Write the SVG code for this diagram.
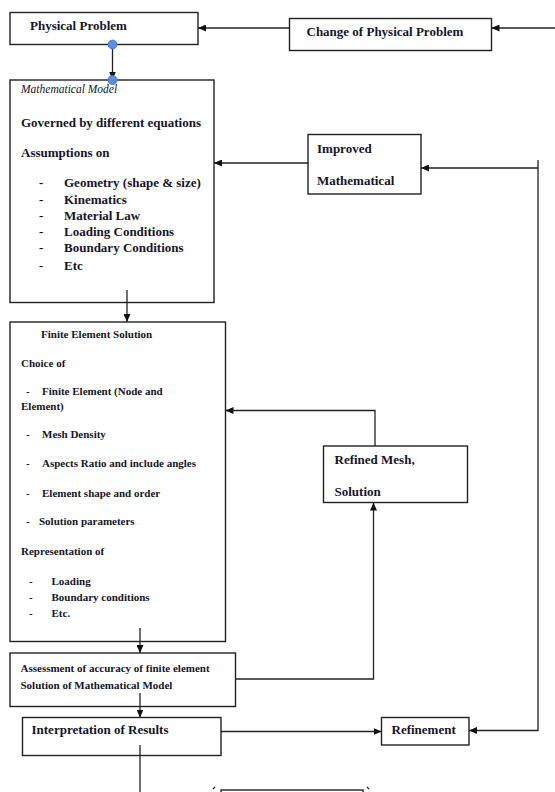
<svg xmlns="http://www.w3.org/2000/svg" width="555" height="792" viewBox="0 0 555 792">
<style>
.box{fill:#fff;stroke:#222;stroke-width:1.4}
.ln{fill:none;stroke:#222;stroke-width:1.3}
.t13{font-family:"Liberation Serif","Times New Roman",serif;font-size:13px;font-weight:bold;fill:#15152a}
.t11{font-family:"Liberation Serif","Times New Roman",serif;font-size:11px;font-weight:bold;fill:#15152a}
.it{font-family:"Liberation Serif","Times New Roman",serif;font-size:11.5px;font-style:italic;fill:#15152a}
.dot{fill:#5b8fdc;stroke:#3f73c4;stroke-width:0.8}
</style>
<defs>
<marker id="ah" viewBox="0 0 8 7" refX="8" refY="3.5" markerWidth="8" markerHeight="7" markerUnits="userSpaceOnUse" orient="auto">
<path d="M0,0 L8,3.5 L0,7 z" fill="#111"/>
</marker>
</defs>
<rect width="555" height="792" fill="#fff"/>

<g id="physical-problem">
<rect class="box" x="10" y="12.5" width="188" height="32"/>
<text class="t13" x="30" y="29.5">Physical Problem</text>
</g>
<g id="change-physical-problem">
<rect class="box" x="289.5" y="18.5" width="202" height="32"/>
<text class="t13" x="306.5" y="36">Change of Physical Problem</text>
</g>
<g id="mathematical-model">
<rect class="box" x="10" y="80" width="204" height="222.5"/>
<text class="it" x="21" y="93">Mathematical Model</text>
<text class="t13" x="21" y="127">Governed by different equations</text>
<text class="t13" x="21" y="157">Assumptions on</text>
<g class="t13">
<text x="39" y="187">-</text><text x="64" y="187">Geometry (shape &amp; size)</text>
<text x="39" y="204">-</text><text x="64" y="204">Kinematics</text>
<text x="39" y="219.5">-</text><text x="64" y="219.5">Material Law</text>
<text x="39" y="235.5">-</text><text x="64" y="235.5">Loading Conditions</text>
<text x="39" y="252">-</text><text x="64" y="252">Boundary Conditions</text>
<text x="39" y="270">-</text><text x="64" y="270">Etc</text>
</g>
</g>
<g id="improved-mathematical">
<rect class="box" x="308" y="134.5" width="113" height="59.5"/>
<text class="t13" x="317" y="153">Improved</text>
<text class="t13" x="317" y="185">Mathematical</text>
</g>
<g id="finite-element-solution">
<rect class="box" x="10" y="322" width="215.5" height="319.5"/>
<g class="t11">
<text x="41" y="338">Finite Element Solution</text>
<text x="21" y="367">Choice of</text>
<text x="26" y="395">-</text><text x="42" y="395">Finite Element (Node and</text>
<text x="21" y="410">Element)</text>
<text x="26" y="438">-</text><text x="42" y="438">Mesh Density</text>
<text x="26" y="466.5">-</text><text x="42" y="466.5">Aspects Ratio and include angles</text>
<text x="26" y="497">-</text><text x="42" y="497">Element shape and order</text>
<text x="26" y="525">-</text><text x="39" y="525">Solution parameters</text>
<text x="21" y="555">Representation of</text>
<text x="29" y="585">-</text><text x="51.5" y="585">Loading</text>
<text x="29" y="601">-</text><text x="51.5" y="601">Boundary conditions</text>
<text x="29" y="617">-</text><text x="51.5" y="617">Etc.</text>
</g>
</g>
<g id="refined-mesh-solution">
<rect class="box" x="323.5" y="446" width="144" height="56.5"/>
<text class="t13" x="334.5" y="464">Refined Mesh,</text>
<text class="t13" x="334.5" y="496">Solution</text>
</g>
<g id="assessment">
<rect class="box" x="10" y="653" width="225.5" height="53.5"/>
<text class="t11" x="20.5" y="672">Assessment of accuracy of finite element</text>
<text class="t11" x="20.5" y="689">Solution of Mathematical Model</text>
</g>
<g id="interpretation">
<rect class="box" x="22.5" y="717.5" width="198.5" height="38"/>
<text class="t13" x="31.5" y="733.5">Interpretation of Results</text>
</g>
<g id="refinement">
<rect class="box" x="381.5" y="717.5" width="87.5" height="27.5"/>
<text class="t13" x="391.5" y="734">Refinement</text>
</g>
<g id="bottom-box">
<rect class="box" x="221" y="790" width="142" height="12"/>
<path class="ln" d="M213,789 l2,-2 M367,787 l2,2" stroke-width="0.8"/>
</g>

<g id="connectors">
<path class="ln" d="M112.5,44.5 V79.5" marker-end="url(#ah)"/>
<path class="ln" d="M289.5,28 H198" marker-end="url(#ah)"/>
<path class="ln" d="M555,28 H491.5" marker-end="url(#ah)"/>
<path class="ln" d="M308,163 H214" marker-end="url(#ah)"/>
<path class="ln" d="M538,160 V730.5 H469" marker-end="url(#ah)"/>
<path class="ln" d="M538,168 H421" marker-end="url(#ah)"/>
<path class="ln" d="M127,290 V322" marker-end="url(#ah)"/>
<path class="ln" d="M375,446 V410.5 H225.5" marker-end="url(#ah)"/>
<path class="ln" d="M140,628 V653" marker-end="url(#ah)"/>
<path class="ln" d="M235.5,679 H373.5 V502.5" marker-end="url(#ah)"/>
<path class="ln" d="M140,693 V717.5" marker-end="url(#ah)"/>
<path class="ln" d="M221,731.5 H381.5" marker-end="url(#ah)"/>
<path class="ln" d="M140,745 V792"/>
<circle class="dot" cx="112.5" cy="44.5" r="4.5"/>
<circle class="dot" cx="112.5" cy="80" r="4.5"/>
</g>
</svg>
